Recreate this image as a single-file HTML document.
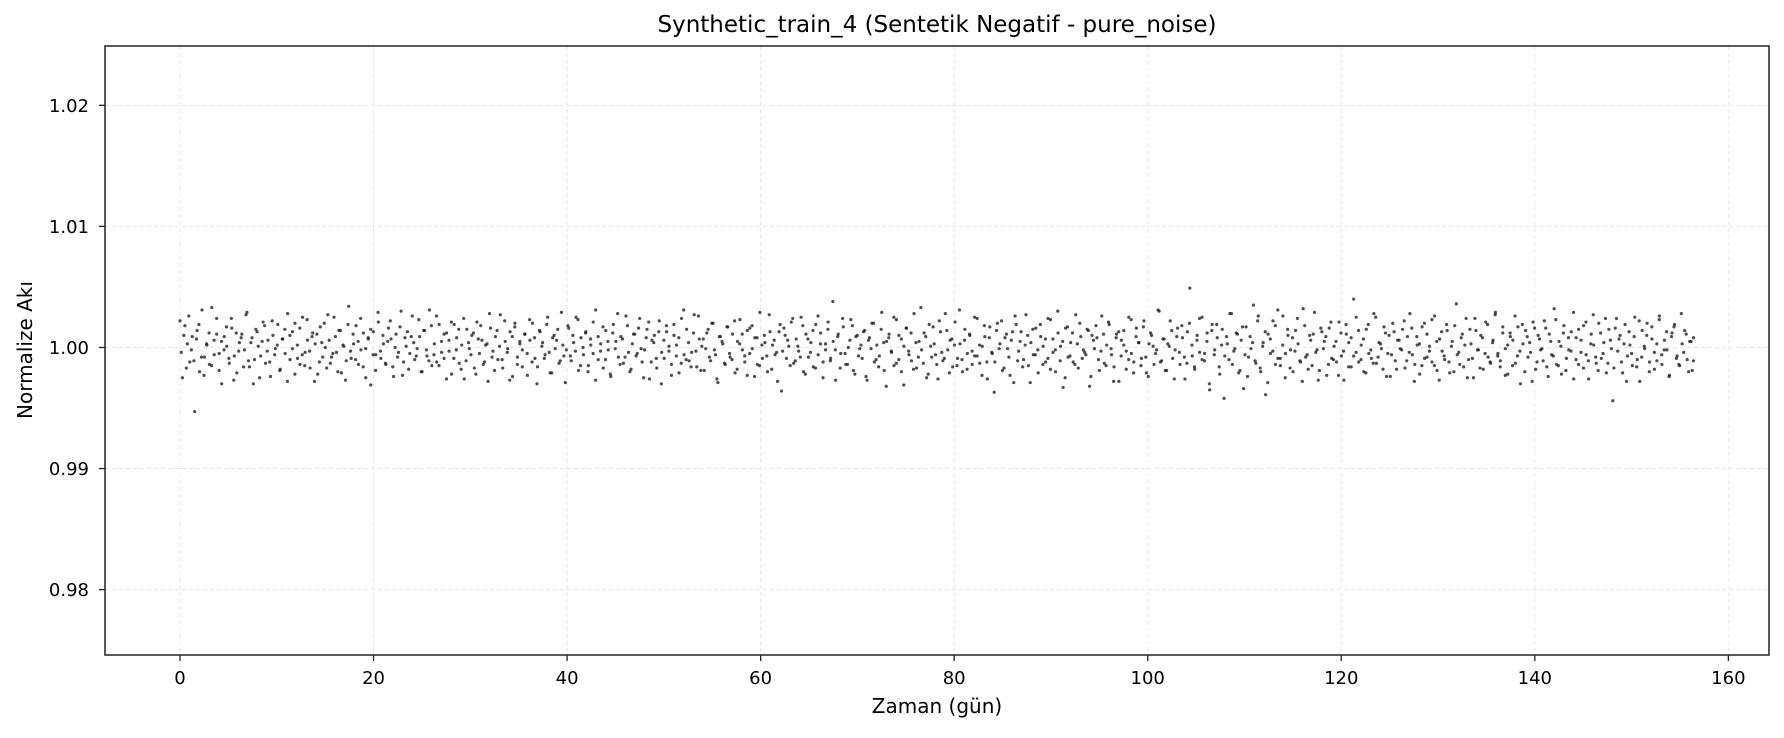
<!DOCTYPE html>
<html><head><meta charset="utf-8"><style>
body{margin:0;background:#fff;}
svg text{font-family:"DejaVu Sans","Liberation Sans",sans-serif;}
</style></head><body>
<svg id="chart" width="1784" height="733" xmlns="http://www.w3.org/2000/svg">
<rect width="1784" height="733" fill="#fff"/>
<text x="937" y="32" font-size="23" text-anchor="middle" fill="#000">Synthetic_train_4 (Sentetik Negatif - pure_noise)</text>
<g id="grid"></g><g id="pts"></g><g id="axes"></g>
<text x="937" y="713" font-size="20" text-anchor="middle">Zaman (gün)</text>
<text x="32" y="350" font-size="20" text-anchor="middle" transform="rotate(-90 32 350)">Normalize Akı</text>
</svg>
<script>
const xTicks=[0,20,40,60,80,100,120,140,160];
const yTicks=[0.98,0.99,1.00,1.01,1.02];
const yTickLabels=["0.98","0.99","1.00","1.01","1.02"];
const tStart=0, tEnd=156.4;
const dev=[ // flux deviation in units of 1e-4 (cadence A)
22,-25,18,3,-12,9,-53,14,-20,31,-8,2,-14,33,-6,11,-19,5,-2,17,
-9,24,-27,12,-3,8,-16,27,-11,4,-30,15,1,-7,21,-13,6,-24,10,-1,
19,-18,7,-5,28,-10,13,-22,2,16,-6,-15,23,-3,9,-28,11,-12,4,20,
-17,6,-8,25,-4,14,-21,1,-11,34,-9,3,18,-14,-2,12,-25,7,15,-6,
-19,29,-3,10,-13,5,22,-16,0,-8,17,-23,8,13,-5,26,-10,-1,9,-20,
14,-7,31,-15,3,-12,19,-4,11,-26,6,21,-9,-2,15,-18,24,-11,4,-6,
12,-22,7,18,-14,2,-28,16,-3,9,-10,27,-17,5,-1,13,-24,20,-8,3,
-16,11,-5,23,-12,8,-30,14,1,-9,19,-4,-21,10,6,-13,29,-7,-2,16,
-11,4,25,-19,8,-6,13,-15,2,21,-27,9,-3,17,-10,5,-22,12,-1,28,
-14,7,-8,18,-20,3,11,-5,24,-12,-2,15,-26,6,10,-17,22,-4,-9,13,
1,-23,19,-7,8,-13,31,-10,4,-16,12,-3,26,-19,7,-1,15,-11,20,-6,
-29,9,3,-14,17,-8,11,-21,5,23,-2,-12,14,-5,18,-24,8,-15,2,10,
-7,27,-18,6,-4,13,-36,16,-9,1,21,-13,7,-3,25,-20,11,-8,4,-16,
19,-6,12,-25,3,15,-11,38,-2,9,-17,24,-5,-14,6,18,-22,10,-1,-9,
14,-27,8,20,-12,2,-7,29,-19,5,11,-4,-15,23,-10,7,-31,16,-3,12,
-18,4,-8,33,-13,9,-22,1,17,-6,-26,13,-11,28,-2,6,-16,21,-9,3,
-20,15,-5,10,-14,25,-7,2,-23,18,-12,8,-4,-37,14,-1,22,-17,11,-8,
6,-29,19,-3,13,-10,27,-15,4,-6,16,-21,9,1,-12,24,-18,7,-2,30,
-11,5,-25,17,-7,12,-14,3,20,-9,-4,15,-32,10,-1,8,-19,26,-13,2,
19,-6,-16,11,-28,6,14,-3,-10,23,-21,9,4,-15,17,-8,-24,12,1,-5,
31,-12,7,-19,3,22,-9,-2,16,-14,8,-26,13,49,-7,-18,10,-4,25,-11,
5,-30,14,-6,19,-16,2,-42,9,-10,28,-3,12,-21,6,-34,17,-8,-1,35,
-13,26,-20,4,-39,11,-5,22,-14,31,-9,2,-25,15,-17,8,-3,24,-11,-28,
18,-6,10,-15,29,-2,-19,13,5,-23,16,-9,1,-12,21,-7,-27,11,4,-16,
40,-4,14,-10,7,-21,19,-2,-13,25,-8,3,-18,12,-5,-24,20,-11,6,-1,
15,-17,9,28,-6,-14,2,-22,17,-9,11,-3,23,-15,5,-27,13,-7,19,-12,
1,-20,36,-4,8,-16,24,-10,3,-25,14,-2,10,-18,21,-8,-13,6,29,-5,
-11,17,-23,2,12,-15,26,-7,-3,19,-20,9,4,-28,16,-12,7,-1,22,-16,
11,-6,32,-14,5,-22,18,-9,-2,13,-26,8,15,-4,-17,21,-11,3,27,-8,
-19,12,-5,24,-13,6,-44,16,-3,10,-21,19,-7,2,-15,25,-10,-28,14,-1,
20,-12,7,-18,3,23,-6,-2,13,-24,9,17,-9,-14,28,-4,11,-20,5,-11
];
const dev2=[ // flux deviation in units of 1e-4 (cadence B, interleaved)
-4,10,-17,26,-2,-11,7,19,-8,-23,3,12,-15,6,24,-5,-30,9,1,-13,
16,-7,-21,4,11,-2,29,-16,8,-10,13,-25,5,18,-3,-12,22,-6,2,-19,
7,15,-28,10,-1,20,-9,-14,25,-4,6,-17,12,3,-22,17,-8,0,27,-13,
-5,9,-20,14,2,-27,19,-3,11,-10,5,24,-16,-1,8,-31,13,-6,21,-9,
3,-14,16,7,-24,11,-4,30,-12,1,-18,9,4,-7,23,-20,14,-2,-11,18,
-6,26,-15,5,-9,12,-3,-22,19,8,-13,2,-26,15,-1,10,-17,21,-5,6,
-12,3,28,-8,-19,14,1,-10,22,-4,-27,9,17,-14,5,-2,11,-23,6,20,
-9,-16,13,4,-6,25,-21,8,-1,15,-11,2,-29,18,-7,10,-3,23,-15,0,
12,-20,7,-5,31,-10,3,-17,14,-2,-24,19,5,-8,9,-13,26,-4,-18,11,
-7,16,-1,-25,8,21,-12,4,-9,13,-30,6,18,-3,-14,10,2,-21,24,-6,
15,-11,-4,27,-16,7,1,-19,12,-8,20,-2,-26,9,5,-13,17,-5,-10,22,
-18,3,11,-7,-23,16,-1,8,-14,29,-9,4,-20,13,2,-6,-28,19,-3,10,
6,-15,24,-11,1,-8,18,-22,7,-4,14,-17,26,3,-12,-2,21,-9,5,-27,
11,-5,17,-14,0,23,-19,9,-7,2,13,-24,6,-1,20,-10,-16,15,4,-32,
8,-3,25,-13,10,-20,1,16,-6,-11,28,-17,5,-2,12,-25,19,-8,3,-14,
22,-4,-9,14,-21,7,2,-15,31,-10,6,-18,11,-3,-7,24,-13,1,9,-26,
17,-5,-12,20,3,-19,8,-1,-23,13,26,-11,5,-16,2,10,-29,15,-6,-2,
19,-14,7,-9,23,-4,-20,12,1,-33,16,-8,4,-12,27,-17,9,-2,-6,14,
-24,6,18,-10,-3,11,-15,21,-1,-28,8,13,-7,2,-18,25,-5,-12,16,4,
-9,22,-21,3,10,-14,-2,30,-11,7,-19,1,14,-26,9,-4,18,-8,-13,20,
2,-16,6,24,-10,-5,12,-35,19,-2,8,-22,15,-7,3,28,-14,-1,11,-19,
17,-6,-24,9,4,-11,22,-17,1,13,-29,7,-3,18,-9,-15,26,-5,10,-2,
-20,14,3,-12,32,-8,-18,6,11,-4,-27,16,-1,9,-14,21,-10,5,-23,12,
-3,19,-16,8,-7,25,-12,2,-20,15,-5,-9,28,-13,4,-1,17,-24,10,-6,
13,-18,6,-2,22,-11,-4,16,-28,9,3,-15,20,-8,1,-12,26,-19,7,-3,
-10,14,-21,5,18,-6,-14,11,2,-25,15,-9,24,-2,-17,8,-5,19,-12,4,
27,-7,-16,12,-1,-22,9,6,-13,17,-30,3,14,-8,-4,21,-18,10,-2,-11,
16,-24,5,-7,23,-15,1,12,-19,8,-3,29,-10,-14,6,18,-6,-26,11,2,
-13,20,-9,4,-21,15,-1,-17,24,7,-12,3,-28,13,-5,9,-16,22,-8,1,
10,-20,17,-4,-11,26,-14,6,-2,-23,12,19,-7,-15,3,14,-10,5,-19,8
];
const X0=105,X1=1769,Y0=46,Y1=655,xmin=-7.75,xmax=164.2,ymin=0.9746,ymax=1.0249;
const sx=v=>X0+(v-xmin)/(xmax-xmin)*(X1-X0);
const sy=v=>Y1-(v-ymin)/(ymax-ymin)*(Y1-Y0);
const NS="http://www.w3.org/2000/svg";
function mk(tag,attrs,parent){const e=document.createElementNS(NS,tag);for(const k in attrs)e.setAttribute(k,attrs[k]);parent.appendChild(e);return e;}
const grid=document.getElementById('grid'),pts=document.getElementById('pts'),axes=document.getElementById('axes');
xTicks.forEach(t=>{const x=sx(t);
 const g=mk('line',{x1:x,x2:x,y1:Y0,y2:Y1,stroke:'#e6e6e6','stroke-width':1,'stroke-dasharray':'4,3'},grid);
 
 
 const tk=mk('line',{x1:x,x2:x,y1:Y1,y2:Y1+6,stroke:'#222','stroke-width':1.3},axes);
 
 
 const tl=mk('text',{x:x,y:Y1+29,'font-size':18,'text-anchor':'middle'},axes);tl.textContent=t;
 
 
});
yTicks.forEach((t,i)=>{const y=sy(t);
 const g=mk('line',{x1:X0,x2:X1,y1:y,y2:y,stroke:'#e6e6e6','stroke-width':1,'stroke-dasharray':'4,3'},grid);
 
 
 const tk=mk('line',{x1:X0-6,x2:X0,y1:y,y2:y,stroke:'#222','stroke-width':1.3},axes);
 
 
 const tl=mk('text',{x:X0-16,y:y+6.5,'font-size':18,'text-anchor':'end'},axes);tl.textContent=yTickLabels[i];
 
 
});
const fr=mk('rect',{x:X0,y:Y0,width:X1-X0,height:Y1-Y0,fill:'none',stroke:'#222','stroke-width':1.5},axes);


function drawSeries(arr,offsetFrac){
 const step=(tEnd-tStart)/(arr.length-1);
 arr.forEach((d,i)=>{
  const t=Math.min(tEnd,tStart+(i+offsetFrac)*step);
  const c=mk('circle',{cx:sx(t),cy:sy(1+d/10000),r:1.6,fill:'#222','fill-opacity':0.8},pts);
  
  
 });
}
drawSeries(dev,0);
drawSeries(dev2,0.5);
</script>
</body></html>
